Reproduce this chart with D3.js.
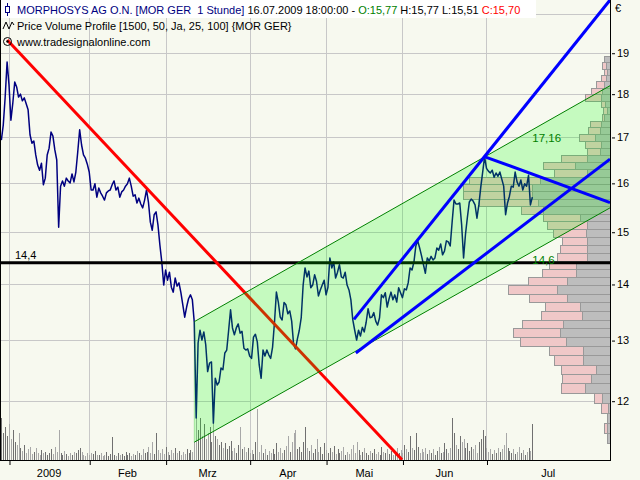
<!DOCTYPE html>
<html><head><meta charset="utf-8">
<script src="https://cdn.jsdelivr.net/npm/d3@7"></script>
<style>body{margin:0;background:#f7f9ef;}svg{display:block;font-family:"Liberation Sans",Arial,sans-serif;}</style>
</head><body><svg id="c" width="640" height="480"></svg>
<script>
// ---- data (trading-day index: 0 = 2 Jan 2009, half-day samples) ----
const startDay = -2, stepDay = 0.5;
const closes = [
16.93,17.27,17.92,18.77,18.21,17.38,17.78,18.28,18.16,17.92,
17.99,17.83,17.90,17.76,17.62,17.05,16.86,16.91,16.60,16.38,
16.27,16.42,15.96,16.10,16.60,16.75,17.11,17.02,16.71,16.49,
15.09,15.93,16.04,15.93,16.10,16.04,16.00,16.19,16.02,16.23,
16.67,17.16,16.82,16.60,16.53,16.40,16.23,15.85,15.85,15.98,
15.70,15.89,15.79,15.72,15.64,15.79,15.83,15.85,15.96,16.04,
15.85,15.91,15.70,15.81,15.85,15.93,15.98,16.10,15.93,15.72,
15.75,15.58,15.68,15.56,15.48,15.64,15.85,15.60,15.19,15.03,
15.34,15.40,15.13,14.74,14.41,13.98,14.26,14.07,14.22,13.94,
13.85,14.11,13.96,14.02,13.84,13.62,13.40,13.58,13.73,13.80,
13.71,13.31,11.73,12.95,13.17,13.00,13.14,12.92,12.47,12.61,
12.63,11.65,12.36,12.25,12.30,12.53,12.50,12.78,12.83,13.17,
13.53,13.21,13.09,13.21,13.28,13.12,13.15,12.86,12.83,12.85,
12.73,12.69,13.05,13.10,12.97,12.58,12.36,12.83,12.73,12.83,
12.75,12.69,12.88,13.31,13.85,13.67,13.40,13.35,13.66,13.62,
13.46,13.51,13.33,12.93,12.85,13.02,13.17,13.39,13.98,14.30,
14.13,14.24,13.93,13.98,14.17,14.05,13.78,13.89,13.98,14.07,
13.80,13.94,14.49,14.30,14.41,14.11,14.22,14.36,14.13,14.11,
14.22,13.98,13.89,13.71,13.35,13.17,13.00,13.17,13.07,13.22,
13.14,13.31,13.55,13.39,13.40,13.48,13.33,13.26,13.39,13.80,
13.75,13.84,13.58,13.73,13.85,13.71,13.80,13.67,13.93,13.84,
13.75,13.91,13.89,14.02,14.30,14.26,14.41,14.72,14.82,14.68,
14.53,14.36,14.20,14.49,14.43,14.52,14.45,14.49,14.68,14.64,
14.76,14.55,14.62,14.82,14.80,14.72,15.19,15.64,15.56,15.56,
15.58,15.13,14.49,14.95,15.29,15.60,15.66,15.62,15.54,15.27,
15.54,15.91,16.23,16.56,16.31,16.25,16.21,16.27,16.12,16.21,
16.14,16.23,16.08,15.93,15.34,15.58,15.72,15.93,15.91,16.23,
16.02,15.93,16.06,15.85,15.98,15.93,16.16,15.54,15.70];
const volumes = [
70,45,55,40,60,35,50,30,25,45,20,
15,25,12,18,22,10,14,20,12,9,16,11,14,8,12,18,10,22,14,50,
12,8,15,10,7,12,9,14,11,16,20,13,9,7,11,8,12,10,15,9,
8,11,7,9,13,6,10,38,9,7,12,8,10,6,14,9,11,7,10,8,15,12,9,18,11,
14,22,12,30,10,45,16,12,18,10,22,14,9,16,12,20,11,15,8,13,10,18,12,16,14,
30,85,50,70,40,60,35,45,55,30,80,40,35,25,30,20,28,18,24,32,
15,20,12,25,55,18,22,14,20,12,16,10,30,85,14,25,12,18,9,15,
12,18,10,28,14,20,12,16,24,40,14,30,45,50,18,22,14,30,55,20,
15,25,12,18,35,14,22,10,28,16,12,20,14,24,10,18,12,15,22,9,
14,10,18,25,12,30,16,9,14,20,11,8,15,12,18,10,13,9,22,14,
12,18,10,15,9,14,20,11,16,12,25,18,14,40,20,16,45,22,12,18,
14,20,10,16,12,18,9,15,22,11,14,28,18,12,20,70,45,25,18,40,
30,35,20,28,15,22,18,25,12,30,35,50,40,20,14,18,10,16,12,20,
14,18,25,45,20,15,12,18,10,14,22,12,16,9,13,20,15,60];
const monthTicks = [0, 21, 41, 63, 83, 103, 125];
const monthLabels = ["2009", "Feb", "Mrz", "Apr", "Mai", "Jun", "Jul"];
const priceTicks = [12, 13, 14, 15, 16, 17, 18, 19];
const gridPrices = [12, 13, 14, 15, 16, 17, 18, 19, 20];
// volume profile: 49 price bins from 11.35, width 0.1543
const profileLow = 11.35, profileStep = 0.1543;
const profileDown = [3,3,3,2,8,25,19,14,27,27,44,50,47,28,30,43,53,43,34,34,23,23,23,24,23,30,67,72,78,78,70,23,35,23,10,9,15,10,9,6,3,5,9,8,6,4,3,4,6];
const profileUp   = [0,3,0,7,8,24,29,35,29,34,46,47,41,41,35,38,49,39,34,27,30,27,25,33,40,37,22,59,69,69,71,33,32,26,13,16,16,12,11,2,4,4,16,11,8,5,3,4,0];
const supportLevel = 14.4, supportText = "14,4";
const redTrend = [[-0.45, 19.32], [102.9, 11.10]];
const channelUpper = [[48.5, 13.32], [157.33, 18.19]];
const channelLower = [[48.5, 11.36], [157.33, 15.48]];
const blueLines = [
  [[90.3, 13.36], [157.33, 20.37]],
  [[90.8, 12.78], [157.33, 16.51]],
  [[124.6, 16.56], [157.33, 15.59]]];
const channelLabels = [{day: 137, value: 17.16, text: "17,16"}, {day: 137, value: 14.6, text: "14,6"}];

// ---- chart ----
const PR = 610, PB = 460;
const svg = d3.select("#c");
const x = d3.scaleLinear().domain([-2.356, 157.33]).range([0, PR]);
const y = d3.scaleLog().domain([11.096, 20.37]).range([PB, 0]);
const vol = d3.scaleLinear().domain([0, 100]).range([0, 60]);
const pw = d3.scaleLinear().domain([0, 150]).range([0, 150]);
const dayOf = i => startDay + i * stepDay;
const P = d => [x(d[0]), y(d[1])];

svg.append("rect").attr("width", 640).attr("height", 480).attr("fill", "#f7f9ef");
svg.append("defs").append("clipPath").attr("id", "plot")
  .append("rect").attr("x", 0).attr("y", 0).attr("width", PR).attr("height", PB);
const g = svg.append("g").attr("clip-path", "url(#plot)");

// grid
g.selectAll(".hg").data(gridPrices).join("line")
  .attr("x1", 0).attr("x2", PR)
  .attr("y1", d => Math.round(y(d)) + 0.5).attr("y2", d => Math.round(y(d)) + 0.5)
  .attr("stroke", "#c8c8c8");
g.selectAll(".vg").data(monthTicks).join("line")
  .attr("y1", 0).attr("y2", PB)
  .attr("x1", d => Math.round(x(d)) + 0.5).attr("x2", d => Math.round(x(d)) + 0.5)
  .attr("stroke", "#c8c8c8");

// volume bars
g.selectAll(".vb").data(volumes).join("rect")
  .attr("x", (d, i) => Math.round(x(dayOf(i))))
  .attr("width", 1)
  .attr("y", d => Math.round(PB - vol(d))).attr("height", d => Math.round(vol(d)))
  .attr("fill", (d, i) => (i > 0 && closes[i] < closes[i - 1]) ? "#a8a8a8" : "#707070");

// volume profile
const bins = profileDown.map((dn, k) => ({dn, up: profileUp[k], lo: profileLow + k * profileStep, hi: profileLow + (k + 1) * profileStep}));
const pg = g.append("g");
pg.selectAll(".pdn").data(bins).join("rect")
  .attr("x", d => Math.round(PR - pw(d.dn)) + 0.5)
  .attr("y", d => Math.round(y(d.hi)) + 0.5)
  .attr("width", d => Math.max(0, Math.round(pw(d.dn))))
  .attr("height", d => Math.round(y(d.lo)) - Math.round(y(d.hi)))
  .attr("fill", "#bdbdbd").attr("stroke", "#999999");
pg.selectAll(".pup").data(bins.filter(d => d.up > 0)).join("rect")
  .attr("x", d => Math.round(PR - pw(d.dn) - pw(d.up)) + 0.5)
  .attr("y", d => Math.round(y(d.hi)) + 0.5)
  .attr("width", d => Math.round(pw(d.up)))
  .attr("height", d => Math.round(y(d.lo)) - Math.round(y(d.hi)))
  .attr("fill", "#f0c8c8").attr("stroke", "#999999");

// price line
g.append("path").datum(closes)
  .attr("d", d3.line().x((d, i) => x(dayOf(i))).y(d => y(d)))
  .attr("fill", "none").attr("stroke", "#000080").attr("stroke-width", 1.5).attr("stroke-linejoin", "round");

// support line and red trend (under channel fill)
g.append("line").attr("x1", 0).attr("x2", PR)
  .attr("y1", y(supportLevel)).attr("y2", y(supportLevel))
  .attr("stroke", "#000").attr("stroke-width", 3);
g.append("path").attr("d", d3.line()(redTrend.map(P)))
  .attr("stroke", "#ff0000").attr("stroke-width", 3).attr("fill", "none");

// channel
const poly = [P(channelUpper[0]), P(channelUpper[1]), P(channelLower[1]), P(channelLower[0])];
g.append("path").attr("d", "M" + poly.join("L") + "Z").attr("fill", "rgba(0,255,0,0.2)");
[channelUpper, channelLower].forEach(c => g.append("path").attr("d", d3.line()(c.map(P)))
  .attr("stroke", "#008000").attr("stroke-width", 1).attr("fill", "none"));
g.append("line").attr("x1", x(channelUpper[0][0])).attr("x2", x(channelLower[0][0]))
  .attr("y1", y(channelUpper[0][1])).attr("y2", y(channelLower[0][1]))
  .attr("stroke", "rgba(0,160,0,0.25)");

// blue lines
blueLines.forEach(l => g.append("path").attr("d", d3.line()(l.map(P)))
  .attr("stroke", "#0000ff").attr("stroke-width", 3).attr("fill", "none"));

// labels
g.selectAll(".cl").data(channelLabels).join("text")
  .attr("x", d => x(d.day)).attr("y", d => y(d.value) + 12)
  .attr("fill", "#008000").attr("font-size", 11.5).text(d => d.text);
g.append("text").attr("x", 15).attr("y", y(supportLevel) - 4)
  .attr("font-size", 11).attr("fill", "#000").text(supportText);

// frame
svg.append("line").attr("x1", 0.5).attr("x2", 0.5).attr("y1", 0).attr("y2", PB + 1).attr("stroke", "#000");
svg.append("line").attr("x1", 0).attr("x2", PR + 1).attr("y1", PB + 0.5).attr("y2", PB + 0.5).attr("stroke", "#000");
svg.append("line").attr("x1", PR + 0.5).attr("x2", PR + 0.5).attr("y1", 0).attr("y2", PB + 1).attr("stroke", "#000");

// right axis
const ya = svg.append("g").attr("transform", `translate(${PR + 2},0)`)
  .call(d3.axisRight(y).tickValues(priceTicks).tickFormat(d3.format("d")).tickSize(3).tickPadding(2));
ya.select(".domain").remove();
ya.selectAll("text").attr("font-size", 11).attr("font-family", "Liberation Sans, Arial, sans-serif").attr("fill", "#000");
ya.selectAll("line").attr("stroke", "#000").attr("transform", "translate(0,0.5)");
svg.append("text").attr("x", 615).attr("y", 12).attr("font-size", 11).text("€");

// bottom axis
const xa = svg.append("g").attr("transform", `translate(0,${PB + 1})`)
  .call(d3.axisBottom(x).tickValues(monthTicks).tickFormat("").tickSize(4));
xa.select(".domain").remove();
xa.selectAll("line").attr("stroke", "#000").attr("transform", "translate(0.5,0)");
const labelPos = monthTicks.map((t, i) => i < monthTicks.length - 1 ? (x(t) + x(monthTicks[i + 1])) / 2 : (x(t) + PR) / 2);
svg.selectAll(".ml").data(monthLabels).join("text")
  .attr("x", (d, i) => labelPos[i]).attr("y", 477).attr("text-anchor", "middle")
  .attr("font-size", 11).attr("fill", "#000").text(d => d);

// header
svg.append("rect").attr("x", 1).attr("y", 0).attr("width", 535).attr("height", 18).attr("fill", "#ffffff");
const h1 = svg.append("text").attr("x", 17).attr("y", 14).attr("font-size", 11).style("white-space", "pre");
h1.append("tspan").attr("fill", "#000080").text("MORPHOSYS AG O.N. [MOR GER  1 Stunde]");
h1.append("tspan").attr("fill", "#000").text(" 16.07.2009 18:00:00 - ");
h1.append("tspan").attr("fill", "#008000").text("O:15,77");
h1.append("tspan").attr("fill", "#000").text(" H:15,77 L:15,51 ");
h1.append("tspan").attr("fill", "#ff0000").text("C:15,70");
svg.append("text").attr("x", 17).attr("y", 30).attr("font-size", 11).attr("fill", "#000")
  .text("Price Volume Profile [1500, 50, Ja, 25, 100] {MOR GER}");
svg.append("text").attr("x", 17).attr("y", 46).attr("font-size", 11).attr("fill", "#000")
  .text("www.tradesignalonline.com");
// header icons
const ic = svg.append("g").attr("fill", "none");
ic.append("line").attr("x1", 7.5).attr("x2", 7.5).attr("y1", 3).attr("y2", 16).attr("stroke", "#000080");
ic.append("rect").attr("x", 5.5).attr("y", 6.5).attr("width", 4).attr("height", 6).attr("fill", "#fff").attr("stroke", "#000080");
ic.append("path").attr("d", "M3,29 L6,22 L9,29 L12,22 L14,25").attr("stroke", "#000");
ic.append("circle").attr("cx", 7.5).attr("cy", 41.5).attr("r", 4).attr("stroke", "#000");
ic.append("circle").attr("cx", 7.5).attr("cy", 41.5).attr("r", 1.2).attr("fill", "#000");
</script></body></html>
